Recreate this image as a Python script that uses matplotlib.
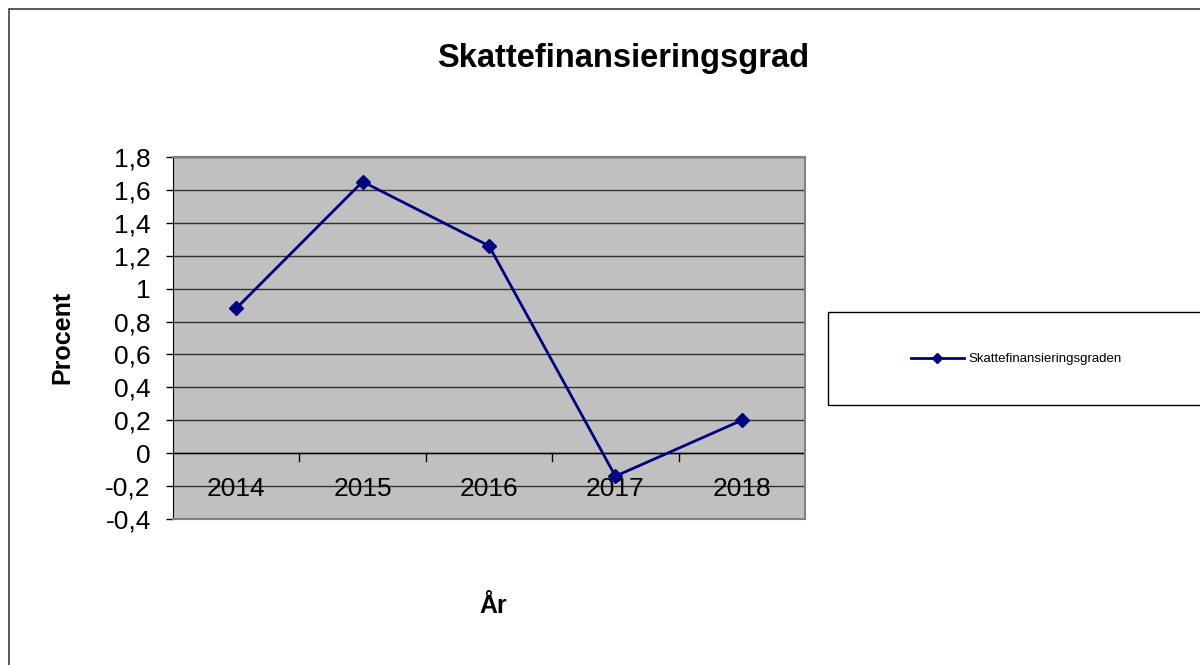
import matplotlib.pyplot as plt
from matplotlib.patches import Rectangle

# data
years = ['2014', '2015', '2016', '2017', '2018']
skattefin = [0.88, 1.65, 1.26, -0.14, 0.20]
yticks = [-0.4, -0.2, 0, 0.2, 0.4, 0.6, 0.8, 1, 1.2, 1.4, 1.6, 1.8]
ytick_labels = ['-0,4', '-0,2', '0', '0,2', '0,4', '0,6', '0,8', '1', '1,2', '1,4', '1,6', '1,8']

plt.rcParams['font.family'] = ['Liberation Sans', 'DejaVu Sans']

fig = plt.figure(figsize=(12, 6.65), dpi=100)

# outer chart border (only top/left visible in the reference)
fig.add_artist(Rectangle((9 / 1200, -0.05), 1.2, 1 - 9 / 665 + 0.05,
                         transform=fig.transFigure, fill=False,
                         edgecolor='#404040', linewidth=1.2))

ax = fig.add_axes([173 / 1200, 1 - 519 / 665, 632 / 1200, 362 / 665])
ax.set_facecolor('#c0c0c0')

x = range(len(years))
ax.plot(x, skattefin, color='#000080', linewidth=2, marker='D', markersize=7,
        label='Skattefinansieringsgraden')

ax.set_xlim(-0.5, len(years) - 0.5)
ax.set_ylim(-0.4, 1.8)
ax.set_yticks(yticks)
ax.set_yticklabels(ytick_labels, fontsize=19)
ax.yaxis.grid(True, color='#303030', linewidth=1)
ax.set_axisbelow(True)
ax.tick_params(axis='y', length=5, width=1, color='black', pad=11)

# category axis crosses at zero
ax.set_xticks([])
ax.axhline(0, color='black', linewidth=1, zorder=1.5)
for i in range(1, len(years) + 1):
    ax.plot([i - 0.5, i - 0.5], [0, -0.05], color='black', linewidth=1, zorder=1.5)
for i, yr in enumerate(years):
    ax.text(i, -0.215, yr, ha='center', va='center', fontsize=19, zorder=1.6)

for side in ['top', 'right', 'bottom']:
    ax.spines[side].set_color('#808080')
    ax.spines[side].set_linewidth(1.5)
ax.spines['left'].set_color('black')

fig.text(623 / 1200, 1 - 58 / 665, 'Skattefinansieringsgrad', ha='center', va='center',
         fontsize=23.5, fontweight='bold')
fig.text(62 / 1200, 1 - 337 / 665, 'Procent', ha='center', va='center', rotation=90,
         fontsize=18, fontweight='bold')
fig.text(493 / 1200, 1 - 606 / 665, 'År', ha='center', va='center',
         fontsize=18, fontweight='bold')

# legend box running off the right edge
fig.add_artist(Rectangle((828 / 1200, 1 - 405 / 665), 0.5, 93 / 665,
                         transform=fig.transFigure, facecolor='white',
                         edgecolor='black', linewidth=1))
leg = fig.legend(loc='center left', bbox_to_anchor=(911 / 1200, 1 - 359 / 665),
                 frameon=False, fontsize=9.5, handlelength=4.0, handletextpad=0.35,
                 borderpad=0, borderaxespad=0)
leg.get_lines()[0].set_markersize(5)

fig.savefig('out.png', dpi=100)
